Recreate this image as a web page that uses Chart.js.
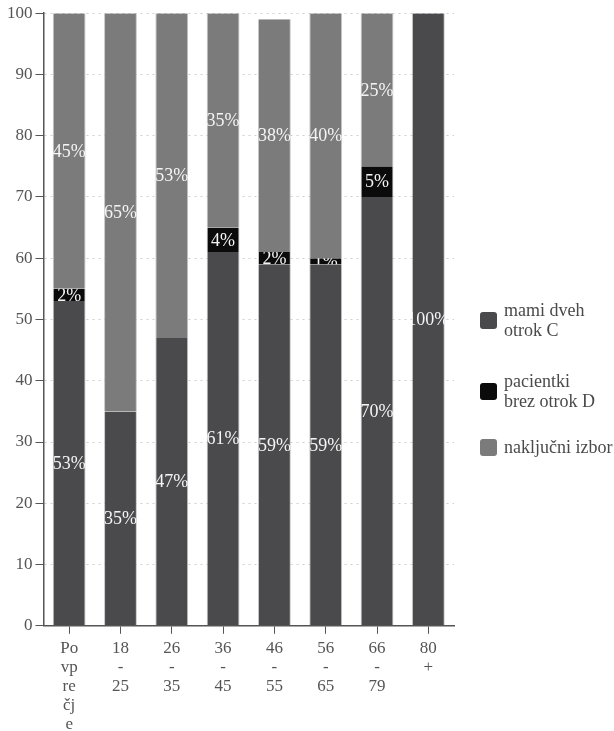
<!DOCTYPE html>
<html>
<head>
<meta charset="utf-8">
<script src="https://cdn.jsdelivr.net/npm/chart.js@4"></script>
<style>
  html, body { margin: 0; padding: 0; background: #fff; }
  #wrap { position: relative; width: 614px; height: 731px; overflow: hidden; }
  #legend { position: absolute; left: 480px; top: 0; font-family: "Liberation Serif", serif; font-size: 18px; color: #4a4a4a; }
  #legend .item { position: absolute; left: 0; display: flex; align-items: center; white-space: nowrap; }
  #legend .box { width: 17px; height: 17px; border-radius: 3px; margin-right: 7px; flex: none; }
  #legend .txt { line-height: 20px; }
</style>
</head>
<body>
<div id="wrap">
  <canvas id="chart" width="614" height="731"></canvas>
  <div id="legend"></div>
</div>
<script>
// starostne skupine (oznake osi x so razbite v vrstice)
const categories = [
    ['Po', 'vp', 're', 'čj', 'e'],
    ['18', '-', '25'],
    ['26', '-', '35'],
    ['36', '-', '45'],
    ['46', '-', '55'],
    ['56', '-', '65'],
    ['66', '-', '79'],
    ['80', '+']
];

// deleži po skupinah (%)
const mamiDveh = [53, 35, 47, 61, 59, 59, 70, 100];
const brezOtrok = [2, 0, 0, 4, 2, 1, 5, 0];
const nakljucni = [45, 65, 53, 35, 38, 40, 25, 0];

const seriesNames = [['mami dveh', 'otrok C'], ['pacientki', 'brez otrok D'], ['naključni izbor']];
const seriesColors = ['#4a494c', '#0b0b0b', '#7b7b7b'];

// izpis vrednosti na sredini vsakega segmenta, obrezan na segment
const segmentLabels = {
    id: 'segmentLabels',
    afterDatasetsDraw(chart) {
        const ctx = chart.ctx;
        chart.data.datasets.forEach((ds, i) => {
            const meta = chart.getDatasetMeta(i);
            meta.data.forEach((bar, j) => {
                const v = ds.data[j];
                if (!v) return;
                const p = bar.getProps(['x', 'y', 'base', 'width'], true);
                const top = Math.min(p.y, p.base);
                const h = Math.abs(p.base - p.y);
                ctx.save();
                ctx.beginPath();
                ctx.rect(p.x - p.width / 2, top, p.width, h);
                ctx.clip();
                ctx.fillStyle = '#f4f4f4';
                ctx.font = '18px "Liberation Serif", serif';
                ctx.textAlign = 'center';
                ctx.textBaseline = 'middle';
                ctx.fillText(v + '%', p.x, top + h / 2 + 1);
                ctx.restore();
            });
        });
    }
};

const datasets = [mamiDveh, brezOtrok, nakljucni].map((values, i) => ({
    label: seriesNames[i].join(' '),
    data: values,
    backgroundColor: seriesColors[i],
    borderColor: 'rgba(160,160,160,0.6)',
    borderWidth: { left: 1, right: 1, top: 0, bottom: 0 },
    borderSkipped: false,
    barPercentage: 0.64,
    categoryPercentage: 1.0
}));

const serif = '"Liberation Serif", serif';

new Chart(document.getElementById('chart').getContext('2d'), {
    type: 'bar',
    data: { labels: categories, datasets: datasets },
    plugins: [segmentLabels],
    options: {
        responsive: false,
        animation: false,
        layout: { padding: { top: 6, right: 160, bottom: -8, left: 4 } },
        plugins: {
            legend: { display: false },
            tooltip: { enabled: false }
        },
        scales: {
            x: {
                stacked: true,
                grid: {
                    display: true,
                    offset: false,
                    drawOnChartArea: false,
                    drawTicks: true,
                    tickLength: 8,
                    color: '#555'
                },
                border: { display: true, color: '#555', width: 1.5 },
                ticks: {
                    color: '#555',
                    font: { family: serif, size: 17, lineHeight: 1.12 },
                    maxRotation: 0,
                    autoSkip: false,
                    padding: 5
                }
            },
            y: {
                stacked: true,
                min: 0,
                max: 100,
                ticks: {
                    stepSize: 10,
                    color: '#555',
                    font: { family: serif, size: 17 },
                    padding: 3
                },
                grid: {
                    color: '#cfcfcf',
                    tickColor: '#555',
                    tickLength: 8,
                    drawTicks: true
                },
                border: { display: true, color: '#555', width: 1.5, dash: [2, 4] }
            }
        }
    }
});

// legenda desno
const legend = document.getElementById('legend');
const legendTops = [300, 371, 437];
seriesNames.forEach((lines, i) => {
    const item = document.createElement('div');
    item.className = 'item';
    item.style.top = legendTops[i] + 'px';
    item.innerHTML = '<div class="box" style="background:' + seriesColors[i] + '"></div>' +
        '<div class="txt">' + lines.join('<br>') + '</div>';
    legend.appendChild(item);
});
</script>
</body>
</html>
